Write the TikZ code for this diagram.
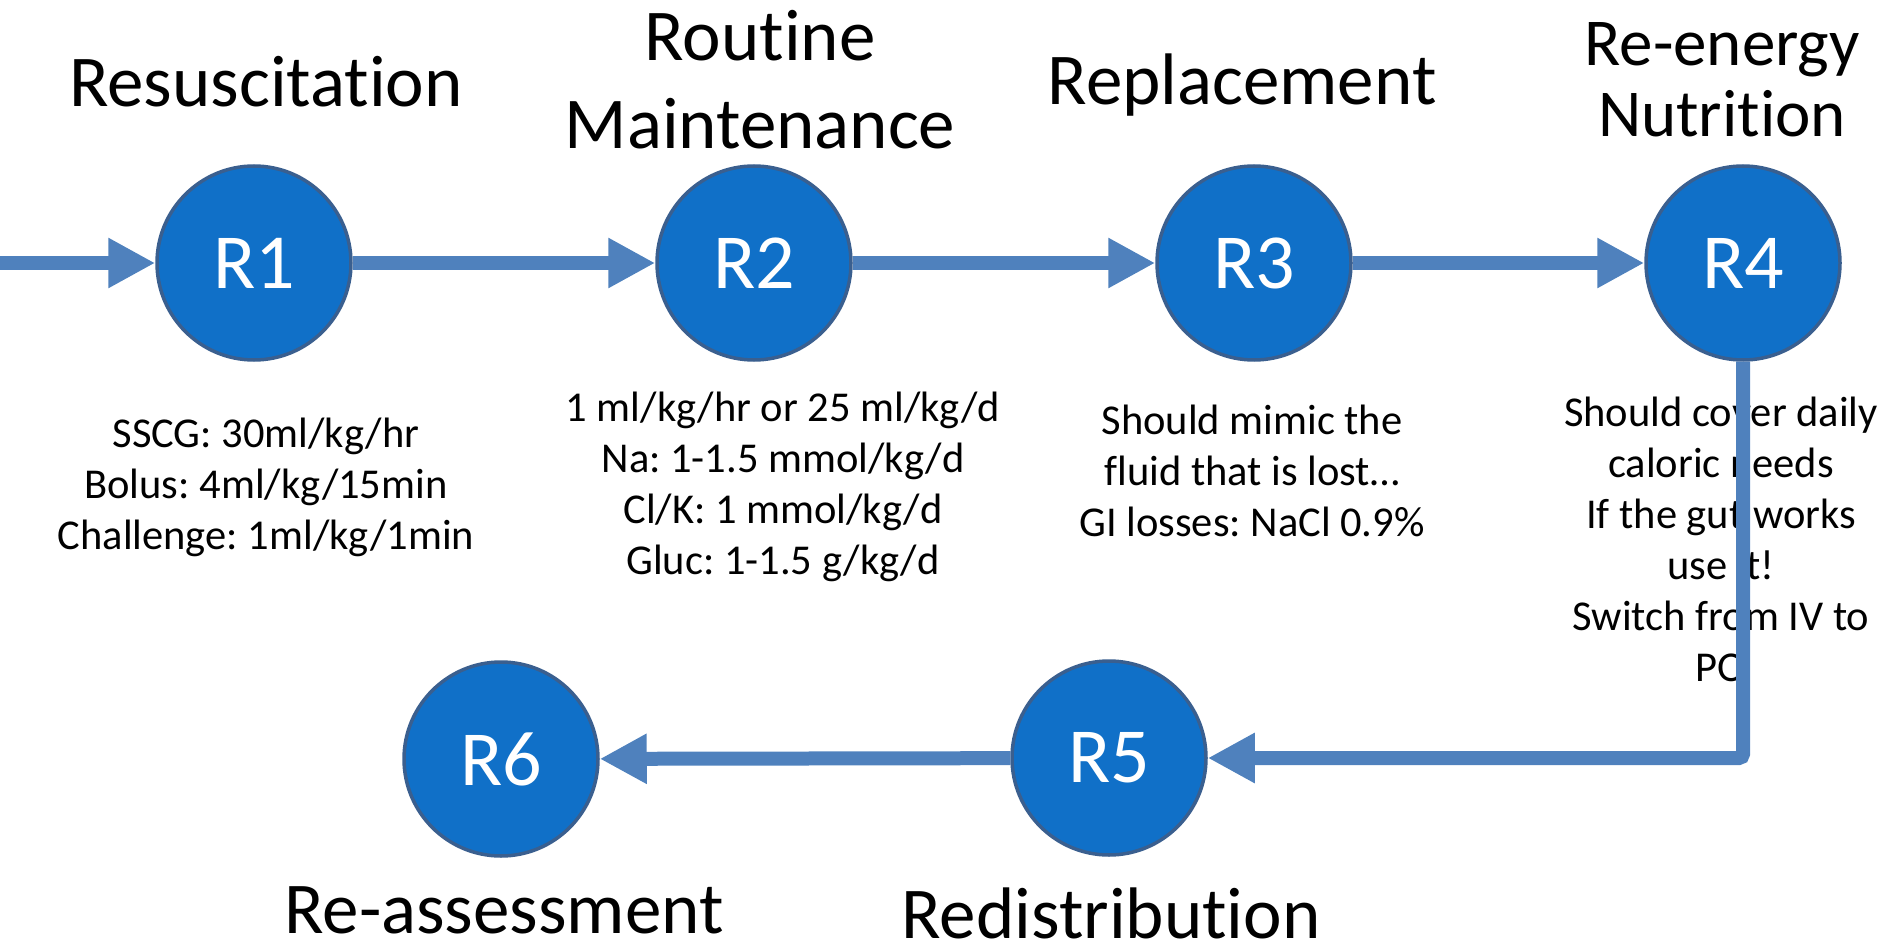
\documentclass[tikz,border=0pt]{standalone}
\usepackage{fontspec}
\setmainfont{Carlito}[Ligatures={NoCommon,NoContextual,NoRequired},Contextuals=NoAlternate]
\usetikzlibrary{arrows.meta}
\definecolor{circfill}{HTML}{1070C8}
\definecolor{circline}{HTML}{3A5F8F}
\definecolor{arrowblue}{HTML}{4F81BD}
\newcommand{\tiSep}{t\kern0pt i}
\tikzset{
  rnode/.style={circle, minimum size=194pt, inner sep=0pt, fill=circfill, draw=circline, line width=3.5pt, text=white, font=\fontsize{78}{80}\selectfont},
  title/.style={align=center, font=\fontsize{73}{88}\selectfont, inner sep=0pt},
  desc/.style={align=center, font=\fontsize{42.5}{51}\selectfont, inner sep=0pt},
  conn/.style={draw=arrowblue, line width=14pt, -{Triangle[length=47pt,width=47pt]}}
}
\frenchspacing
\begin{document}
\begin{tikzpicture}[x=1pt,y=-1pt]
\useasboundingbox (0,0) rectangle (1895,949);
% circles
\node[rnode] (R1) at (254,263) {R1};
\node[rnode] (R2) at (754,263) {R2};
\node[rnode] (R3) at (1254,263) {R3};
\node[rnode] (R4) at (1743,263) {R4};
\node[rnode] (R5) at (1109,758) {R5};
\node[rnode] (R6) at (501,759) {R6};
% titles
\node[title] (t1) at (266,82) {Resuscita\tiSep on};
\node[title] (t2) at (760,80) {Rou\tiSep ne\\Maintenance};
\node[title] (t3) at (1242,85) {Replacement};
\node[title, font=\fontsize{67}{71}\selectfont] (t4) at (1722,80) {Re-energy\\Nutri\tiSep on};
\node[title] (t5) at (504,910) {Re-assessment};
\node[title] (t6) at (1111,913) {Redistribu\tiSep on};
% descriptions
\node[desc] (d1) at (266,487) {SSCG: 30ml/kg/hr\\Bolus: 4ml/kg/15min\\Challenge: 1ml/kg/1min};
\node[desc] (d2) at (783,487) {1 ml/kg/hr or 25 ml/kg/d\\Na: 1-1.5 mmol/kg/d\\Cl/K: 1 mmol/kg/d\\Gluc: 1-1.5 g/kg/d};
\node[desc] (d3) at (1252,471) {Should mimic the\\fluid that is lost\ldots\\GI losses: NaCl 0.9\%};
\node[desc] (d4) at (1721,539) {Should cover daily\\caloric needs\\If the gut works\\use it!\\Switch from IV to\\PO};
% connectors
\coordinate (start) at (0,263);
\draw[conn] (start) -- (R1);
\draw[conn] (R1) -- (R2);
\draw[conn] (R2) -- (R3);
\draw[conn] (R3) -- (R4);
\draw[conn, rounded corners=4pt] (R4.south) |- (R5.east);
\draw[conn] (R5) -- (R6);
\end{tikzpicture}
\end{document}
